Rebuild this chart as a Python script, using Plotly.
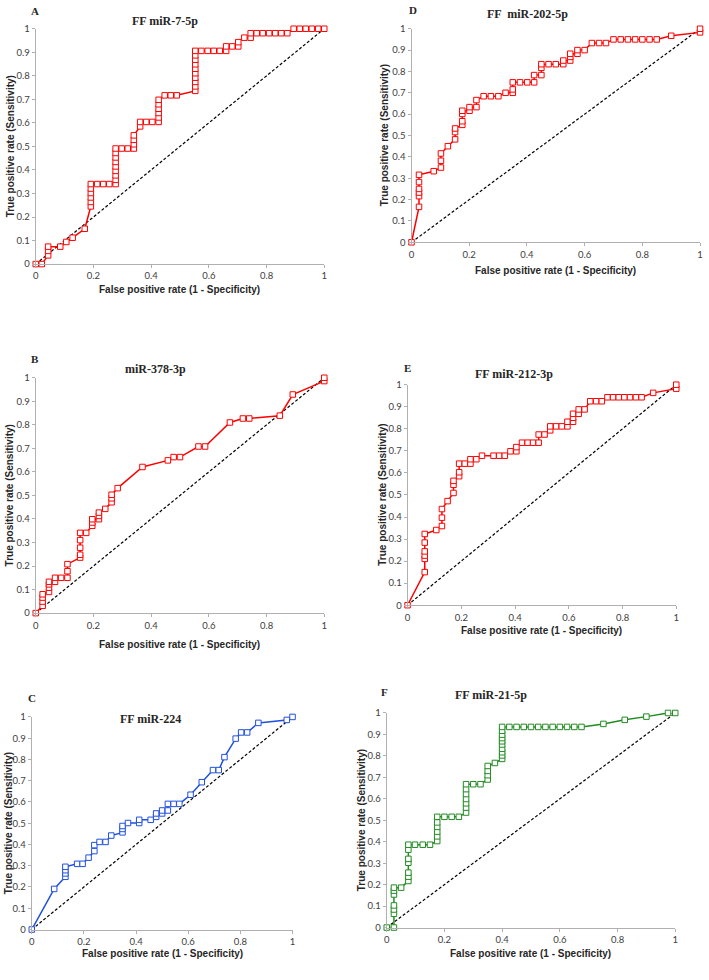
###########
# IMPORTS #
###########
import plotly.graph_objects as go

########
# DATA #
########
# Panel A - FF miR-7-5p
a_fpr = [0, 0.021, 0.043, 0.043, 0.043, 0.085, 0.106, 0.128, 0.170,
         0.191, 0.191, 0.191, 0.191, 0.191, 0.191,
         0.213, 0.234, 0.255, 0.277,
         0.277, 0.277, 0.277, 0.277, 0.277, 0.277, 0.277, 0.277,
         0.298, 0.319, 0.340, 0.340, 0.340, 0.340,
         0.362, 0.362, 0.383, 0.404, 0.426,
         0.426, 0.426, 0.426, 0.426, 0.426,
         0.447, 0.468, 0.489,
         0.553, 0.553, 0.553, 0.553, 0.553, 0.553, 0.553, 0.553, 0.553, 0.553,
         0.574, 0.596, 0.617, 0.638, 0.660,
         0.660, 0.681, 0.702, 0.702, 0.723, 0.745, 0.745,
         0.766, 0.787, 0.809, 0.830, 0.851, 0.872,
         0.894, 0.915, 0.936, 0.957, 0.979, 1.0]
a_tpr = [0, 0, 0.037, 0.056, 0.074, 0.074, 0.094, 0.112, 0.150,
         0.245, 0.264, 0.283, 0.302, 0.321, 0.340,
         0.340, 0.340, 0.340, 0.340,
         0.358, 0.377, 0.396, 0.415, 0.434, 0.453, 0.472, 0.491,
         0.491, 0.491, 0.491, 0.509, 0.528, 0.547,
         0.585, 0.604, 0.604, 0.604, 0.604,
         0.623, 0.642, 0.660, 0.679, 0.698,
         0.717, 0.717, 0.717,
         0.736, 0.755, 0.774, 0.792, 0.811, 0.830, 0.849, 0.868, 0.887, 0.906,
         0.906, 0.906, 0.906, 0.906, 0.906,
         0.925, 0.925, 0.925, 0.943, 0.962, 0.962, 0.981,
         0.981, 0.981, 0.981, 0.981, 0.981, 0.981,
         1.0, 1.0, 1.0, 1.0, 1.0, 1.0]

# Panel B - miR-378-3p
b_fpr = [0, 0.024, 0.024, 0.024, 0.024, 0.046, 0.046, 0.046, 0.046,
         0.067, 0.067, 0.088, 0.110, 0.110, 0.110,
         0.154, 0.154, 0.154, 0.154, 0.154, 0.175,
         0.196, 0.196, 0.196, 0.219, 0.219, 0.219, 0.241,
         0.263, 0.263, 0.263, 0.284, 0.370, 0.458, 0.478, 0.500,
         0.564, 0.587, 0.673, 0.718, 0.740, 0.846, 0.891, 1.0, 1.0]
b_tpr = [0, 0.031, 0.049, 0.066, 0.080, 0.090, 0.108, 0.122, 0.133,
         0.133, 0.150, 0.150, 0.150, 0.178, 0.208,
         0.236, 0.248, 0.278, 0.310, 0.341, 0.341,
         0.371, 0.385, 0.399, 0.399, 0.413, 0.427, 0.443,
         0.471, 0.488, 0.503, 0.531, 0.621, 0.649, 0.663, 0.663,
         0.708, 0.708, 0.810, 0.827, 0.827, 0.839, 0.929, 0.986, 1.0]

# Panel C - FF miR-224
c_fpr = [0, 0.086, 0.129, 0.129, 0.129, 0.129, 0.174, 0.195, 0.218,
         0.240, 0.240, 0.260, 0.283, 0.305, 0.348, 0.348, 0.348, 0.369,
         0.412, 0.412, 0.456, 0.477, 0.477, 0.500, 0.500, 0.522, 0.522,
         0.544, 0.566, 0.609, 0.652, 0.695, 0.717, 0.739, 0.782, 0.803,
         0.826, 0.869, 0.978, 1.0]
c_tpr = [0, 0.191, 0.248, 0.264, 0.279, 0.295, 0.309, 0.309, 0.338,
         0.369, 0.397, 0.412, 0.412, 0.442, 0.457, 0.473, 0.487, 0.501,
         0.501, 0.516, 0.516, 0.530, 0.546, 0.546, 0.560, 0.560, 0.591,
         0.591, 0.591, 0.634, 0.693, 0.750, 0.750, 0.811, 0.898, 0.927,
         0.927, 0.972, 0.986, 1.0]

# Panel D - FF miR-202-5p
d_fpr = [0, 0.026, 0.026, 0.026, 0.026, 0.026, 0.026, 0.077,
         0.102, 0.102, 0.102, 0.126, 0.151, 0.151, 0.151,
         0.176, 0.176, 0.176, 0.176, 0.201, 0.201, 0.225, 0.225,
         0.250, 0.275, 0.301, 0.326, 0.351, 0.351, 0.351,
         0.376, 0.401, 0.425, 0.425, 0.450, 0.450, 0.450,
         0.475, 0.500, 0.526, 0.526, 0.550, 0.550, 0.550,
         0.575, 0.575, 0.600, 0.625, 0.650, 0.674,
         0.700, 0.725, 0.750, 0.775, 0.800, 0.825, 0.850, 0.900, 1.0, 1.0]
d_tpr = [0, 0.166, 0.216, 0.233, 0.250, 0.282, 0.316, 0.333,
         0.350, 0.382, 0.416, 0.450, 0.482, 0.516, 0.533,
         0.550, 0.567, 0.601, 0.616, 0.616, 0.633, 0.633, 0.666,
         0.684, 0.684, 0.684, 0.700, 0.700, 0.716, 0.749,
         0.749, 0.749, 0.749, 0.783, 0.783, 0.817, 0.834,
         0.834, 0.834, 0.834, 0.851, 0.851, 0.868, 0.883,
         0.883, 0.900, 0.900, 0.933, 0.933, 0.933,
         0.950, 0.950, 0.950, 0.950, 0.950, 0.950, 0.950, 0.967, 0.983, 1.0]

# Panel E - FF miR-212-3p
e_fpr = [0, 0.064, 0.064, 0.064, 0.064, 0.064, 0.064, 0.107,
         0.128, 0.128, 0.128, 0.149, 0.171, 0.171, 0.171,
         0.192, 0.192, 0.192, 0.213, 0.234, 0.234, 0.256,
         0.277, 0.320, 0.341, 0.362, 0.383, 0.405, 0.405,
         0.426, 0.447, 0.467, 0.488, 0.488, 0.510, 0.531, 0.531,
         0.553, 0.574, 0.595, 0.595, 0.616, 0.616, 0.616, 0.637, 0.637, 0.659,
         0.680, 0.702, 0.723, 0.744, 0.765, 0.786, 0.807, 0.828, 0.850, 0.871,
         0.914, 1.0, 1.0]
e_tpr = [0, 0.150, 0.210, 0.225, 0.244, 0.284, 0.323, 0.341,
         0.359, 0.397, 0.436, 0.472, 0.509, 0.546, 0.564,
         0.585, 0.603, 0.642, 0.642, 0.642, 0.662, 0.662,
         0.678, 0.678, 0.678, 0.678, 0.698, 0.698, 0.717,
         0.737, 0.737, 0.737, 0.737, 0.774, 0.774, 0.793, 0.811,
         0.811, 0.811, 0.811, 0.832, 0.832, 0.850, 0.868, 0.868, 0.888, 0.888,
         0.925, 0.925, 0.925, 0.943, 0.943, 0.943, 0.943, 0.943, 0.943, 0.943,
         0.963, 0.982, 1.0]

# Panel F - FF miR-21-5p
f_fpr = [0, 0.025, 0.025, 0.025, 0.025, 0.025, 0.025, 0.025, 0.050,
         0.075, 0.075, 0.075, 0.075, 0.075, 0.075, 0.075,
         0.098, 0.125, 0.150, 0.175, 0.175, 0.175, 0.175, 0.175, 0.175,
         0.200, 0.225, 0.250, 0.275, 0.275, 0.275, 0.275, 0.275, 0.275, 0.275,
         0.300, 0.325, 0.350, 0.350, 0.350, 0.350, 0.375,
         0.400, 0.400, 0.400, 0.400, 0.400, 0.400, 0.400, 0.400, 0.400, 0.400,
         0.425, 0.450, 0.475, 0.500, 0.525, 0.550, 0.575, 0.600, 0.625, 0.650, 0.675,
         0.751, 0.825, 0.900, 0.975, 1.0]
f_tpr = [0, 0, 0.064, 0.084, 0.103, 0.154, 0.172, 0.186, 0.186,
         0.217, 0.237, 0.256, 0.302, 0.320, 0.363, 0.386,
         0.386, 0.386, 0.386, 0.403, 0.425, 0.447, 0.469, 0.490, 0.516,
         0.516, 0.516, 0.516, 0.536, 0.559, 0.579, 0.599, 0.622, 0.645, 0.668,
         0.668, 0.668, 0.690, 0.710, 0.730, 0.753, 0.767,
         0.786, 0.802, 0.817, 0.833, 0.853, 0.868, 0.883, 0.899, 0.917, 0.935,
         0.935, 0.935, 0.935, 0.935, 0.935, 0.935, 0.935, 0.935, 0.935, 0.935, 0.935,
         0.949, 0.968, 0.983, 1.0, 1.0]

# Axis ticks shared by every panel
x_ticks = [0, 0.2, 0.4, 0.6, 0.8, 1]
x_tick_labels = ['0', '0.2', '0.4', '0.6', '0.8', '1']
y_ticks = [0, 0.1, 0.2, 0.3, 0.4, 0.5, 0.6, 0.7, 0.8, 0.9, 1]
y_tick_labels = ['0', '0.1', '0.2', '0.3', '0.4', '0.5', '0.6', '0.7', '0.8', '0.9', '1']
diag = [0, 1]

X_TITLE = 'False positive rate (1 - Specificity)'
Y_TITLE = 'True positive rate (Sensitivity)'

#############
# FUNCTIONS #
#############
W, H = 709, 980


def px_x(p):
    return p / W


def px_y(p):
    return 1 - p / H


# letter, title, fpr, tpr, colour, plot box in pixels (left, right, top, bottom),
# title centre, letter position, x-title y, y-title x
panels = [
    dict(letter='A', title='FF miR-7-5p', fpr=a_fpr, tpr=a_tpr, color='#ff0000',
         box=(33, 324, 23, 261), tpos=(163, 15), lpos=(32, 5), xt=287, yt=7),
    dict(letter='D', title='FF  miR-202-5p', fpr=d_fpr, tpr=d_tpr, color='#ff0000',
         box=(412, 703, 23, 239), tpos=(529, 8), lpos=(413, 4), xt=267, yt=385),
    dict(letter='B', title='miR-378-3p', fpr=b_fpr, tpr=b_tpr, color='#ff0000',
         box=(33, 324, 376, 614), tpos=(154, 367), lpos=(32, 357), xt=646, yt=7),
    dict(letter='E', title='FF miR-212-3p', fpr=e_fpr, tpr=e_tpr, color='#ff0000',
         box=(408, 679, 383, 606), tpos=(515, 372), lpos=(408, 366), xt=632, yt=383),
    dict(letter='C', title='FF miR-224', fpr=c_fpr, tpr=c_tpr, color='#2050dc',
         box=(29, 292, 719, 934), tpos=(149, 721), lpos=(29, 700), xt=958, yt=5),
    dict(letter='F', title='FF miR-21-5p', fpr=f_fpr, tpr=f_tpr, color='#228b22',
         box=(387, 678, 715, 932), tpos=(492, 697), lpos=(385, 694), xt=958, yt=361),
]

fig = go.Figure()
annotations = []

for i, p in enumerate(panels, start=1):
    xa = 'x' if i == 1 else f'x{i}'
    ya = 'y' if i == 1 else f'y{i}'
    left, right, top, bottom = p['box']

    # Reference diagonal
    fig.add_trace(go.Scatter(
        x=diag, y=diag, mode='lines', xaxis=xa, yaxis=ya,
        line=dict(color='black', width=1.2, dash='3px,2px'),
        showlegend=False, hoverinfo='skip'))

    # ROC curve
    fig.add_trace(go.Scatter(
        x=p['fpr'], y=p['tpr'], mode='lines+markers', xaxis=xa, yaxis=ya,
        line=dict(color=p['color'], width=1.5),
        marker=dict(symbol='square', size=5.5, color='white',
                    line=dict(color=p['color'], width=1)),
        showlegend=False, cliponaxis=False))

    axis_common = dict(
        showgrid=False, zeroline=False, showline=True, linecolor='#b0b0b0',
        linewidth=1, ticks='outside', ticklen=3, tickcolor='#b0b0b0',
        ticklabeloverflow='allow',
        tickfont=dict(family='Lato, Open Sans, sans-serif', size=9.5, color='#404040'),
        fixedrange=True)

    fig.update_layout(**{
        ('xaxis' if i == 1 else f'xaxis{i}'): dict(
            axis_common, domain=[px_x(left), px_x(right)], range=[0, 1],
            tickvals=x_ticks, ticktext=x_tick_labels, anchor=ya),
        ('yaxis' if i == 1 else f'yaxis{i}'): dict(
            axis_common, domain=[px_y(bottom), px_y(top)], range=[0, 1],
            tickvals=y_ticks, ticktext=y_tick_labels, anchor=xa),
    })

    # Panel title and letter
    annotations.append(dict(
        text=f"<b>{p['title']}</b>", xref='paper', yref='paper',
        x=px_x(p['tpos'][0]), y=px_y(p['tpos'][1]), showarrow=False,
        xanchor='center', yanchor='middle',
        font=dict(family='Liberation Serif, Times New Roman, serif', size=12, color='#262626')))
    annotations.append(dict(
        text=f"<b>{p['letter']}</b>", xref='paper', yref='paper',
        x=px_x(p['lpos'][0]), y=px_y(p['lpos'][1]), showarrow=False,
        xanchor='center', yanchor='middle',
        font=dict(family='Liberation Serif, Times New Roman, serif', size=11, color='#262626')))

    # Axis titles
    annotations.append(dict(
        text=f'<b>{X_TITLE}</b>', xref='paper', yref='paper',
        x=px_x((left + right) / 2), y=px_y(p['xt']), showarrow=False,
        xanchor='center', yanchor='middle',
        font=dict(family='Liberation Sans, Arial, sans-serif', size=10, color='#262626')))
    annotations.append(dict(
        text=f'<b>{Y_TITLE}</b>', xref='paper', yref='paper',
        x=px_x(p['yt']), y=px_y((top + bottom) / 2), showarrow=False,
        xanchor='center', yanchor='middle', textangle=-90,
        font=dict(family='Liberation Sans, Arial, sans-serif', size=10, color='#262626')))

fig.update_layout(
    width=W, height=H,
    margin=dict(l=0, r=0, t=0, b=0),
    plot_bgcolor='white', paper_bgcolor='white',
    annotations=annotations,
)

# Drop the default page margin so the figure sits at the window's top-left corner
fig.write_html('out.html', config={'displayModeBar': False}, post_script=(
    "document.body.style.margin='0';"
    "document.documentElement.style.overflow='hidden';"
    "document.body.style.overflow='hidden';"))
